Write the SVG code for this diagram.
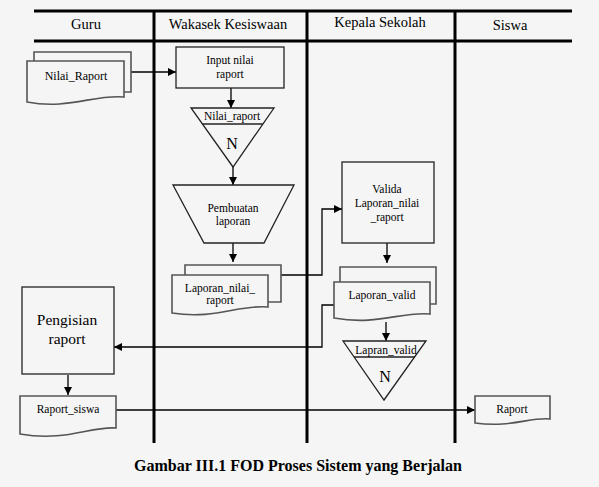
<svg xmlns="http://www.w3.org/2000/svg" width="599" height="487" viewBox="0 0 599 487">
<defs>
<style>
.lane{stroke:#000;stroke-width:3;fill:none}
.shape{fill:none;stroke:#222;stroke-width:1.3}
.doc{fill:#f5f5f5;stroke:#555;stroke-width:1.6}
.conn{fill:none;stroke:#000;stroke-width:1.3}
.h{font-family:"Liberation Serif",serif;font-size:14.5px;fill:#000;text-anchor:middle}
.t{font-family:"Liberation Serif",serif;font-size:11.5px;fill:#000;text-anchor:middle}
.n{font-family:"Liberation Serif",serif;font-size:16px;fill:#000;text-anchor:middle}
.big{font-family:"Liberation Serif",serif;font-size:15.5px;fill:#000;text-anchor:middle}
.cap{font-family:"Liberation Serif",serif;font-size:16px;font-weight:bold;fill:#000;text-anchor:middle}
</style>
<marker id="arr" viewBox="0 0 10 10" refX="10" refY="5" markerWidth="8" markerHeight="8" markerUnits="userSpaceOnUse" orient="auto">
<path d="M0,0 L10,5 L0,10 Z" fill="#000"/>
</marker>
</defs>
<rect width="599" height="487" fill="#f5f5f5"/>

<g id="lanes">
<line class="lane" x1="34" y1="11" x2="572" y2="11"/>
<line class="lane" x1="34" y1="41" x2="572" y2="41"/>
<line class="lane" x1="154" y1="11" x2="154" y2="443"/>
<line class="lane" x1="307" y1="11" x2="307" y2="443"/>
<line class="lane" x1="455" y1="11" x2="455" y2="443"/>
<text class="h" x="86" y="29">Guru</text>
<text class="h" x="228" y="29">Wakasek Kesiswaan</text>
<text class="h" x="380" y="27">Kepala Sekolah</text>
<text class="h" x="510" y="30">Siswa</text>
</g>

<g id="connectors">
<line class="conn" x1="131" y1="72" x2="176" y2="72" marker-end="url(#arr)"/>
<line class="conn" x1="231" y1="88" x2="231" y2="108" marker-end="url(#arr)"/>
<line class="conn" x1="233" y1="167" x2="233" y2="185" marker-end="url(#arr)"/>
<line class="conn" x1="233" y1="243" x2="233" y2="262" marker-end="url(#arr)"/>
<polyline class="conn" points="281,275 322,275 322,209 342,209" marker-end="url(#arr)"/>
<line class="conn" x1="387" y1="243" x2="387" y2="263" marker-end="url(#arr)"/>
<line class="conn" x1="386" y1="322" x2="386" y2="341" marker-end="url(#arr)"/>
<polyline class="conn" points="334,305 322,305 322,347 114,347" marker-end="url(#arr)"/>
<line class="conn" x1="68" y1="375" x2="68" y2="395" marker-end="url(#arr)"/>
<line class="conn" x1="116" y1="410" x2="475" y2="410" marker-end="url(#arr)"/>
</g>

<g id="nilai-raport-doc">
<polyline class="doc" points="34,61 34,52 131,52 131,92 124,92"/>
<path class="doc" d="M27,61 H124 V97 C95,94 68,110 27,102 Z"/>
<text class="t" x="76" y="80" style="font-size:12px">Nilai_Raport</text>
</g>

<g id="input-nilai">
<rect class="shape" x="176" y="47" width="108" height="41"/>
<text class="t" x="230" y="64">Input nilai</text>
<text class="t" x="230" y="78">raport</text>
</g>

<g id="nilai-raport-store">
<polygon class="shape" points="191,108 274,108 233,167"/>
<line class="shape" x1="202" y1="124" x2="263" y2="124"/>
<text class="t" x="232" y="120">Nilai_raport</text>
<text class="n" x="232" y="149">N</text>
</g>

<g id="pembuatan-laporan">
<polygon class="shape" points="173,185 294,185 264,243 204,243"/>
<text class="t" x="233" y="212">Pembuatan</text>
<text class="t" x="233" y="225">laporan</text>
</g>

<g id="laporan-nilai-doc">
<polyline class="doc" points="185,275 185,265 281,265 281,302 268,302"/>
<path class="doc" d="M172,275 H268 V307 C240,304 215,320 172,313 Z"/>
<text class="t" x="220" y="292">Laporan_nilai_</text>
<text class="t" x="220" y="304">raport</text>
</g>

<g id="valida">
<rect class="shape" x="342" y="162" width="92" height="81"/>
<text class="t" x="387" y="193">Valida</text>
<text class="t" x="387" y="207">Laporan_nilai</text>
<text class="t" x="387" y="221">_raport</text>
</g>

<g id="laporan-valid-doc">
<polyline class="doc" points="340,282 340,267 436,267 436,304 430,304"/>
<path class="doc" d="M334,282 H430 V314 C402,311 378,326 334,318 Z"/>
<text class="t" x="382" y="299">Laporan_valid</text>
</g>

<g id="lapran-valid-store">
<polygon class="shape" points="343,341 426,341 384,400"/>
<line class="shape" x1="354" y1="357" x2="415" y2="357"/>
<text class="t" x="386" y="354">Lapran_valid</text>
<text class="n" x="385" y="382">N</text>
</g>

<g id="pengisian-raport">
<rect class="shape" x="22" y="287" width="92" height="87"/>
<text class="big" x="67" y="325">Pengisian</text>
<text class="big" x="67" y="344">raport</text>
</g>

<g id="raport-siswa-doc">
<path class="doc" d="M20,396 H116 V428 C90,426 66,442 20,434 Z"/>
<text class="t" x="68" y="413">Raport_siswa</text>
</g>

<g id="raport-doc">
<path class="doc" d="M475,396 H550 V419 C530,417 510,428 475,423 Z"/>
<text class="t" x="512" y="413">Raport</text>
</g>

<text class="cap" x="298" y="471">Gambar III.1 FOD Proses Sistem yang Berjalan</text>
</svg>
